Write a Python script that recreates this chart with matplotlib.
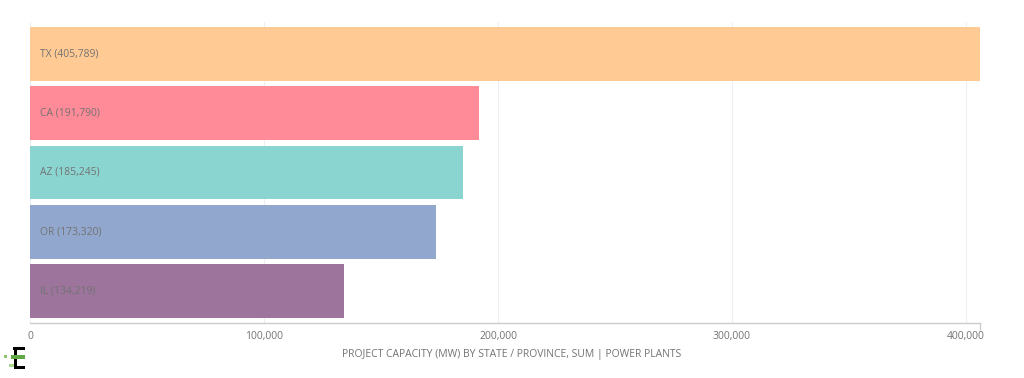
import matplotlib
matplotlib.use("Agg")
import matplotlib.pyplot as plt
from matplotlib.patches import Rectangle

# ── data ─────────────────────────────────────────────────────────────────────
states = ["TX", "CA", "AZ", "OR", "IL"]
capacity = [405789, 191790, 185245, 173320, 134219]
colors = ["#FFCA94", "#FF8A98", "#8BD5D1", "#92A7CE", "#9C749C"]
ticks = [0, 100000, 200000, 300000, 400000]
xlabel = "PROJECT CAPACITY (MW) BY STATE / PROVINCE, SUM | POWER PLANTS"

plt.rcParams["font.family"] = ["Open Sans", "DejaVu Sans"]
txt = "#737373"

fig = plt.figure(figsize=(10.24, 3.78), dpi=100)
ax = fig.add_axes([30 / 1024, 1 - 323 / 378, 950 / 1024, 301 / 378])

ypos = list(range(len(states)))
ax.barh(ypos, capacity, height=0.91, color=colors, zorder=2)
for y, s, v in zip(ypos, states, capacity):
    ax.text(4300, y, f"{s} ({v:,})", va="center", ha="left",
            fontsize=7.5, color=txt, zorder=3)

ax.set_xlim(0, 406000)
ax.set_ylim(4.54, -0.54)
ax.set_yticks([])
ax.set_xticks(ticks)
ax.set_xticklabels([f"{t:,}" for t in ticks], fontsize=7.5, color=txt)
ax.tick_params(axis="x", length=0, pad=6)
ax.set_xticks([0, 406000], minor=True)
ax.tick_params(axis="x", which="minor", length=5, color="#cccccc", width=1)
ax.grid(axis="x", color="#d8dde6", linewidth=0.8, alpha=0.45, zorder=2.5)

for side in ["top", "right", "left"]:
    ax.spines[side].set_visible(False)
ax.spines["bottom"].set_color("#cccccc")
ax.spines["bottom"].set_linewidth(1)

fig.text(0.5, 1 - 354 / 378, xlabel, ha="center", va="center",
         fontsize=7.5, color=txt)

# small logo bottom-left
logo = [
    (13, 347, 12, 2.5, "black"), (14, 347, 3, 22, "black"), (17, 366, 8, 2.5, "black"),
    (4, 355, 3, 3, "#8cc66a"), (11, 355, 14, 3.5, "#5fa843"),
    (9, 364, 5, 3, "#a8d88c"),
]
for x, y, w, h, c in logo:
    fig.add_artist(Rectangle((x / 1024, 1 - (y + h) / 378), w / 1024, h / 378,
                             transform=fig.transFigure, color=c, lw=0))

fig.savefig("out.png", dpi=100)
